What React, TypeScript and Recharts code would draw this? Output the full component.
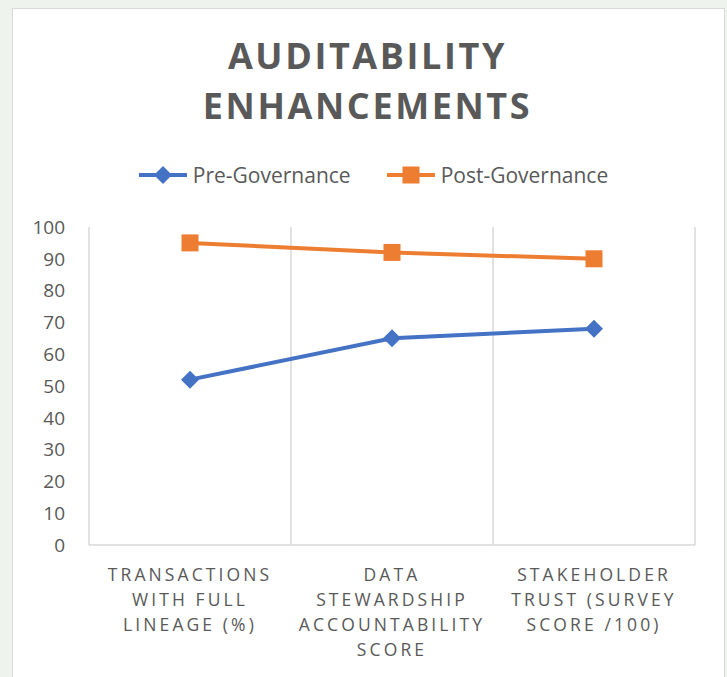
import { LineChart, Line, XAxis, YAxis, CartesianGrid, Legend } from 'recharts';

const categories = [
  'TRANSACTIONS\nWITH FULL\nLINEAGE (%)',
  'DATA\nSTEWARDSHIP\nACCOUNTABILITY\nSCORE',
  'STAKEHOLDER\nTRUST (SURVEY\nSCORE /100)',
];
const preGovernance = [52, 65, 68];
const postGovernance = [95, 92, 90];
const yTicks = [0, 10, 20, 30, 40, 50, 60, 70, 80, 90, 100];
const seriesOrder = ['pre', 'post'];

const data = categories.map((name, i) => ({
  name,
  pre: preGovernance[i],
  post: postGovernance[i],
}));

const BLUE = '#4472C4';
const ORANGE = '#ED7D31';
const TEXT = '#595959';
const GRID = '#d9d9d9';
const FONT = '"Open Sans", sans-serif';

const Diamond = (props: any) => {
  const { cx, cy } = props;
  if (cx == null || cy == null) return null;
  const r = 9;
  return <path d={`M${cx},${cy - r}L${cx + r},${cy}L${cx},${cy + r}L${cx - r},${cy}Z`} fill={BLUE} />;
};

const Square = (props: any) => {
  const { cx, cy } = props;
  if (cx == null || cy == null) return null;
  const r = 8.5;
  return <rect x={cx - r} y={cy - r} width={r * 2} height={r * 2} fill={ORANGE} />;
};

const CategoryTick = (props: any) => {
  const { x, y, payload } = props;
  const lines = String(payload.value).split('\n');
  return (
    <text x={x} y={y + 28} textAnchor="middle" fill={TEXT} fontSize={17.5} fontFamily={FONT} letterSpacing={3.1}>
      {lines.map((l, i) => (
        <tspan key={i} x={x} dy={i === 0 ? 0 : 25}>
          {l}
        </tspan>
      ))}
    </text>
  );
};

const LegendContent = (props: any) => {
  const items = [...(props.payload || [])].sort(
    (a: any, b: any) => seriesOrder.indexOf(a.dataKey) - seriesOrder.indexOf(b.dataKey)
  );
  return (
    <div style={{ display: 'flex', justifyContent: 'center', gap: 36, fontFamily: FONT, fontSize: 21, color: TEXT }}>
      {items.map((it: any) => (
        <div key={it.value} style={{ display: 'flex', alignItems: 'center' }}>
          <svg width={56} height={20}>
            <line x1={0} y1={10} x2={48} y2={10} stroke={it.color} strokeWidth={4} />
            {it.dataKey === 'pre' ? (
              <path d="M24,1L33,10L24,19L15,10Z" fill={it.color} />
            ) : (
              <rect x={15.5} y={1.5} width={17} height={17} fill={it.color} />
            )}
          </svg>
          <span style={{ marginLeft: -2 }}>{it.value}</span>
        </div>
      ))}
    </div>
  );
};

export default function App() {
  return (
    <div style={{ position: 'absolute', left: 0, top: 0, width: 727, height: 677, background: '#eef3ee', overflow: 'hidden' }}>
      <div
        style={{
          position: 'absolute',
          left: 12,
          top: 8,
          width: 711,
          height: 680,
          background: '#fff',
          border: `1px solid ${GRID}`,
        }}
      />
      <div
        style={{
          position: 'absolute',
          left: 12,
          top: 31,
          width: 711,
          textAlign: 'center',
          fontFamily: FONT,
          fontWeight: 700,
          fontSize: 36,
          lineHeight: '50px',
          letterSpacing: 2.6,
          color: TEXT,
        }}
      >
        AUDITABILITY
        <br />
        ENHANCEMENTS
      </div>
      <div style={{ position: 'absolute', left: 0, top: 0 }}>
        <LineChart width={727} height={677} data={data} margin={{ top: 199, right: 32, left: 0, bottom: 0 }}>
          <CartesianGrid
            horizontal={false}
            stroke={GRID}
            strokeWidth={1.5}
            verticalCoordinatesGenerator={({ offset }: any) =>
              categories.map((_, i) => offset.left + (i * offset.width) / categories.length).concat(offset.left + offset.width)
            }
          />
          <XAxis
            dataKey="name"
            scale="band"
            interval={0}
            height={132}
            tickLine={false}
            axisLine={{ stroke: GRID, strokeWidth: 1.5 }}
            tick={<CategoryTick />}
          />
          <YAxis
            width={89}
            domain={[0, 100]}
            ticks={yTicks}
            axisLine={false}
            tickLine={false}
            tickMargin={18}
            tick={{ fill: TEXT, fontSize: 19, fontFamily: FONT }}
          />
          <Legend
            verticalAlign="top"
            wrapperStyle={{ top: 161, left: 10, width: 727 }}
            content={<LegendContent />}
          />
          <Line
            type="linear"
            dataKey="pre"
            name="Pre-Governance"
            stroke={BLUE}
            strokeWidth={4}
            dot={<Diamond />}
            activeDot={false}
            isAnimationActive={false}
          />
          <Line
            type="linear"
            dataKey="post"
            name="Post-Governance"
            stroke={ORANGE}
            strokeWidth={4}
            dot={<Square />}
            activeDot={false}
            isAnimationActive={false}
          />
        </LineChart>
      </div>
    </div>
  );
}
